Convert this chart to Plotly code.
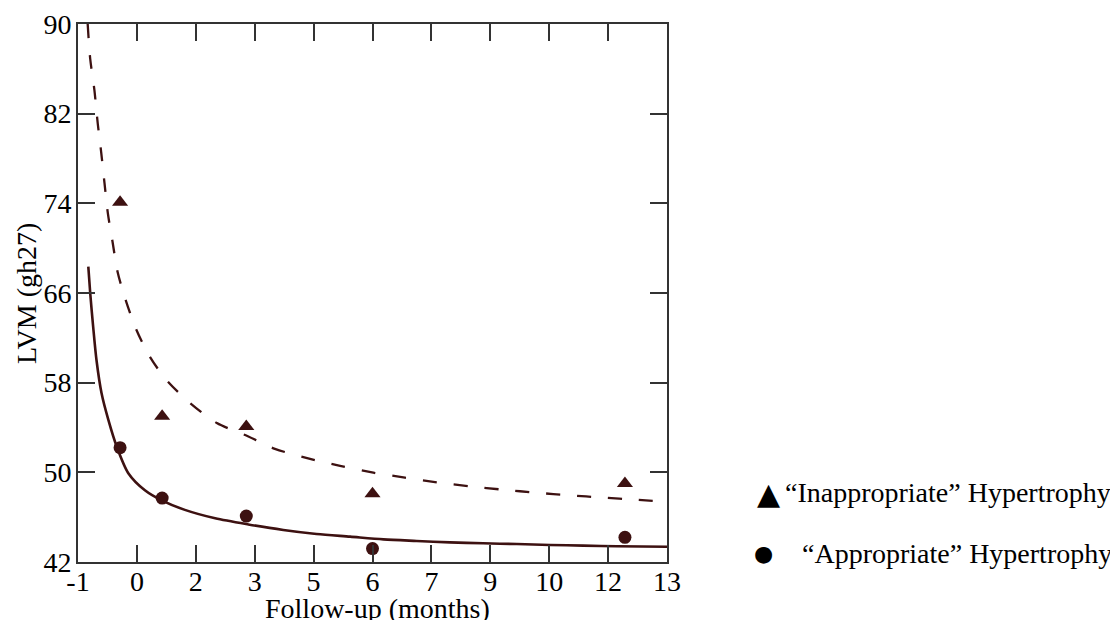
import plotly.graph_objects as go

# ---- data ----
months = [0, 1, 3, 6, 12]
inappropriate = [74.1, 55.0, 54.1, 48.1, 49.0]
appropriate = [52.2, 47.7, 46.1, 43.2, 44.2]

fit_inapp_x = [-0.77, -0.71, -0.61, -0.53, -0.45, -0.37, -0.29, -0.18, -0.06, 0.13, 0.39,
               0.71, 1.11, 1.66, 2.30, 3.05, 3.68, 4.47, 5.23, 6.02, 6.77, 7.53, 8.32,
               9.11, 9.90, 10.70, 11.45, 12.28, 13.0]
fit_inapp_y = [90.0, 86.9, 84.1, 81.1, 78.6, 75.8, 73.1, 70.6, 67.9, 65.4, 62.7,
               60.3, 58.2, 56.2, 54.4, 53.2, 52.1, 51.25, 50.57, 49.97, 49.53, 49.1, 48.75,
               48.45, 48.18, 47.95, 47.75, 47.55, 47.35]

fit_app_x = [-0.755, -0.71, -0.64, -0.56, -0.44, -0.28, -0.08, 0.20, 0.59, 0.99, 1.54,
             2.26, 3.05, 3.88, 4.67, 5.47, 6.26, 7.05, 7.84, 8.63, 9.43, 10.22, 11.01,
             11.80, 13.0]
fit_app_y = [68.35, 66.0, 63.0, 60.0, 57.05, 54.7, 52.3, 49.9, 48.4, 47.5, 46.65,
             45.9, 45.35, 44.86, 44.5, 44.26, 44.02, 43.88, 43.75, 43.67, 43.6, 43.52, 43.46,
             43.41, 43.36]

x_tickvals = [-1, 0.4, 1.8, 3.2, 4.6, 6.0, 7.4, 8.8, 10.2, 11.6, 13]
x_ticktext = ["-1", "0", "2", "3", "5", "6", "7", "9", "10", "12", "13"]
y_tickvals = [42, 50, 58, 66, 74, 82, 90]
y_ticktext = ["42", "50", "58", "66", "74", "82", "90"]

legend_labels = ["\u201cInappropriate\u201d Hypertrophy", " \u201cAppropriate\u201d Hypertrophy"]

# ---- style ----
OFF = 8                      # page body margin
W, H = 1118 - OFF, 620 - OFF
L, R, T, B = 78, 667, 24, 562  # plot box in screenshot pixels
PW, PH = R - L, B - T
CURVE = "#3d1111"
AXIS = "#333333"
FONT = "Liberation Serif, Times New Roman, serif"
FS = 28

def px(xp):
    return (xp - L) / PW

def py(yp):
    return (B - yp) / PH

fig = go.Figure()
fig.add_trace(go.Scatter(x=fit_inapp_x, y=fit_inapp_y, mode="lines",
                         line=dict(color=CURVE, width=2.3, dash="14px,17px",
                                   shape="spline", smoothing=0.8),
                         showlegend=False, hoverinfo="skip"))
fig.add_trace(go.Scatter(x=fit_app_x, y=fit_app_y, mode="lines",
                         line=dict(color=CURVE, width=2.6, shape="spline", smoothing=0.8),
                         showlegend=False, hoverinfo="skip"))
fig.add_trace(go.Scatter(x=months, y=inappropriate, mode="markers",
                         marker=dict(symbol="triangle-up", size=14, color=CURVE),
                         name=legend_labels[0], showlegend=False))
fig.add_trace(go.Scatter(x=months, y=appropriate, mode="markers",
                         marker=dict(symbol="circle", size=13, color=CURVE),
                         name=legend_labels[1], showlegend=False))

axis_common = dict(showgrid=False, zeroline=False, showline=True, linecolor=AXIS,
                   linewidth=2, mirror="ticks", ticks="inside", ticklen=17,
                   tickwidth=2, tickcolor=AXIS, automargin=False,
                   tickfont=dict(family=FONT, size=FS, color="black"))

fig.update_layout(
    width=W, height=H,
    margin=dict(l=L - OFF, r=W - (R - OFF), t=T - OFF, b=H - (B - OFF), pad=0,
                autoexpand=False),
    plot_bgcolor="white", paper_bgcolor="white",
    xaxis=dict(range=[-1, 13], tickmode="array", tickvals=x_tickvals,
               ticktext=x_ticktext, ticklabelstandoff=-7, **axis_common),
    yaxis=dict(range=[42, 90], tickmode="array", tickvals=y_tickvals,
               ticktext=y_ticktext, ticklabelstandoff=-1, **axis_common),
    showlegend=False,
    annotations=[
        dict(text="Follow-up (months)", xref="paper", yref="paper",
             x=px(377), y=py(608), xanchor="center", yanchor="middle",
             showarrow=False, font=dict(family=FONT, size=FS, color="black")),
        dict(text="LVM (gh27)", xref="paper", yref="paper", textangle=-90,
             x=px(26), y=py(294), xanchor="center", yanchor="middle",
             showarrow=False, font=dict(family=FONT, size=FS, color="black")),
        dict(text="\u25b2", xref="paper", yref="paper",
             x=px(768), y=py(493), xanchor="center", yanchor="middle",
             showarrow=False, font=dict(family="DejaVu Sans", size=30, color="black")),
        dict(text=legend_labels[0], xref="paper", yref="paper",
             x=px(783), y=py(492), xanchor="left", yanchor="middle",
             showarrow=False, font=dict(family=FONT, size=FS, color="black")),
        dict(text="\u25cf", xref="paper", yref="paper",
             x=px(763), y=py(553), xanchor="center", yanchor="middle",
             showarrow=False, font=dict(family="DejaVu Sans", size=22, color="black")),
        dict(text=legend_labels[1], xref="paper", yref="paper",
             x=px(793), y=py(553), xanchor="left", yanchor="middle",
             showarrow=False, font=dict(family=FONT, size=FS, color="black")),
    ],
)

fig.write_html("out.html")
